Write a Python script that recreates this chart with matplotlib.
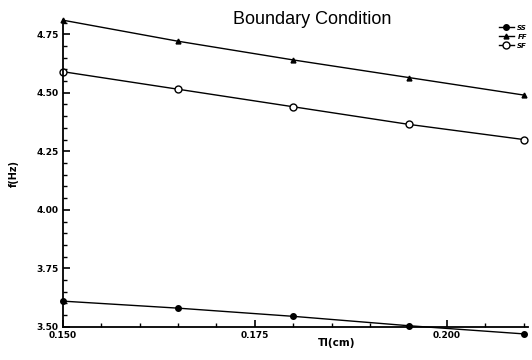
import matplotlib
matplotlib.use("Agg")
import matplotlib.pyplot as plt
from matplotlib.ticker import MultipleLocator, FormatStrFormatter

# thickness (cm) and natural frequency (Hz) per boundary condition
thickness = [0.150, 0.165, 0.180, 0.195, 0.210]
freq_ss = [3.61, 3.58, 3.545, 3.505, 3.47]
freq_ff = [4.81, 4.72, 4.64, 4.565, 4.49]
freq_sf = [4.59, 4.515, 4.44, 4.365, 4.30]

fig = plt.figure(figsize=(5.32, 3.60), dpi=100)
ax = fig.add_axes([0.118, 0.092, 0.874, 0.852])

ax.plot(thickness, freq_ss, color='black', lw=1.0, marker='o', ms=4,
        label='SS', clip_on=False)
ax.plot(thickness, freq_ff, color='black', lw=1.0, marker='^', ms=3.5,
        label='FF', clip_on=False)
ax.plot(thickness, freq_sf, color='black', lw=1.0, marker='o', ms=5,
        mfc='white', label='SF', clip_on=False)

ax.set_xlim(0.150, 0.2105)
ax.set_ylim(3.50, 4.81)

ax.spines['top'].set_visible(False)
ax.spines['right'].set_visible(False)
ax.spines['left'].set_linewidth(1.3)
ax.spines['bottom'].set_linewidth(1.3)

ax.xaxis.set_major_locator(MultipleLocator(0.025))
ax.xaxis.set_minor_locator(MultipleLocator(0.005))
ax.yaxis.set_major_locator(MultipleLocator(0.25))
ax.yaxis.set_minor_locator(MultipleLocator(0.05))
ax.xaxis.set_major_formatter(FormatStrFormatter('%.3f'))
ax.yaxis.set_major_formatter(FormatStrFormatter('%.2f'))
ax.tick_params(which='major', direction='in', length=5, width=1.2,
               labelsize=6.5, pad=3)
ax.tick_params(which='minor', direction='in', length=3, width=1.0)
for lab in ax.get_xticklabels() + ax.get_yticklabels():
    lab.set_fontweight('bold')

ax.set_xlabel('Tl(cm)', fontsize=7.5, fontweight='bold')
ax.xaxis.set_label_coords(0.59, -0.035)
ax.set_ylabel('f(Hz)', fontsize=7, fontweight='bold')
ax.yaxis.set_label_coords(-0.095, 0.5)

fig.text(0.587, 0.945, 'Boundary Condition', fontsize=13,
         family='Liberation Sans', ha='center', va='center')

leg = fig.legend(loc='upper right', bbox_to_anchor=(1.0, 0.945),
                 frameon=False, fontsize=5, handlelength=2.2,
                 labelspacing=0.45, borderpad=0.2, handletextpad=0.5)
for t in leg.get_texts():
    t.set_fontweight('bold')
    t.set_fontstyle('italic')

fig.savefig('out.png', dpi=100)
